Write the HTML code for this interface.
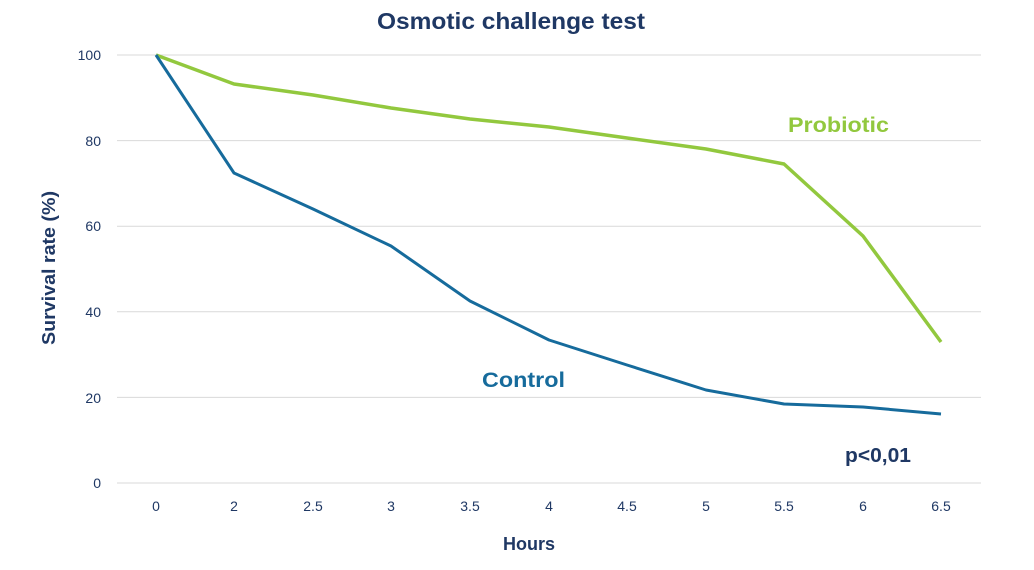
<!DOCTYPE html>
<html><head><meta charset="utf-8"><style>
body{margin:0;background:#fff}
svg text{font-family:"Liberation Sans",sans-serif}
</style></head><body>
<svg width="1034" height="565" viewBox="0 0 1034 565" xmlns="http://www.w3.org/2000/svg">
<rect width="1034" height="565" fill="#fff"/>
<text x="511" y="29" text-anchor="middle" font-size="23" font-weight="bold" fill="#1f3864" textLength="268" lengthAdjust="spacingAndGlyphs">Osmotic challenge test</text>
<g stroke="#d9d9d9" stroke-width="1">
<line x1="117" x2="981" y1="55" y2="55"/><line x1="117" x2="981" y1="140.6" y2="140.6"/>
<line x1="117" x2="981" y1="226.2" y2="226.2"/><line x1="117" x2="981" y1="311.8" y2="311.8"/>
<line x1="117" x2="981" y1="397.4" y2="397.4"/><line x1="117" x2="981" y1="483" y2="483"/>
</g>
<g font-size="14" fill="#1f3864" text-anchor="end">
<text x="101" y="60">100</text><text x="101" y="146">80</text><text x="101" y="231">60</text>
<text x="101" y="317">40</text><text x="101" y="403">20</text><text x="101" y="488">0</text>
</g>
<g font-size="14" fill="#1f3864" text-anchor="middle">
<text x="156" y="511">0</text><text x="234" y="511">2</text><text x="313" y="511">2.5</text>
<text x="391" y="511">3</text><text x="470" y="511">3.5</text><text x="549" y="511">4</text>
<text x="627" y="511">4.5</text><text x="706" y="511">5</text><text x="784" y="511">5.5</text>
<text x="863" y="511">6</text><text x="941" y="511">6.5</text>
</g>
<text x="529" y="550" text-anchor="middle" font-size="18" font-weight="bold" fill="#1f3864">Hours</text>
<text transform="translate(55,268) rotate(-90)" text-anchor="middle" font-size="18" font-weight="bold" fill="#1f3864" textLength="154" lengthAdjust="spacingAndGlyphs">Survival rate (%)</text>
<polyline fill="none" stroke="#92c83e" stroke-width="3.5" stroke-linejoin="round" points="156,55 234,84 313,95 391,108 470,119 549,127 627,138 706,149 784,164 863,236 941,342"/>
<polyline fill="none" stroke="#166b9c" stroke-width="3" stroke-linejoin="round" points="156,55 234,173 313,209 391,246 470,301 549,340 627,365 706,390 784,404 863,407 941,414"/>
<text x="788" y="132" font-size="21" font-weight="bold" fill="#92c83e" textLength="101" lengthAdjust="spacingAndGlyphs">Probiotic</text>
<text x="482" y="387" font-size="21" font-weight="bold" fill="#166b9c" textLength="83" lengthAdjust="spacingAndGlyphs">Control</text>
<text x="845" y="462" font-size="20" font-weight="bold" fill="#1f3864" textLength="66" lengthAdjust="spacingAndGlyphs">p&lt;0,01</text>
</svg>
</body></html>
